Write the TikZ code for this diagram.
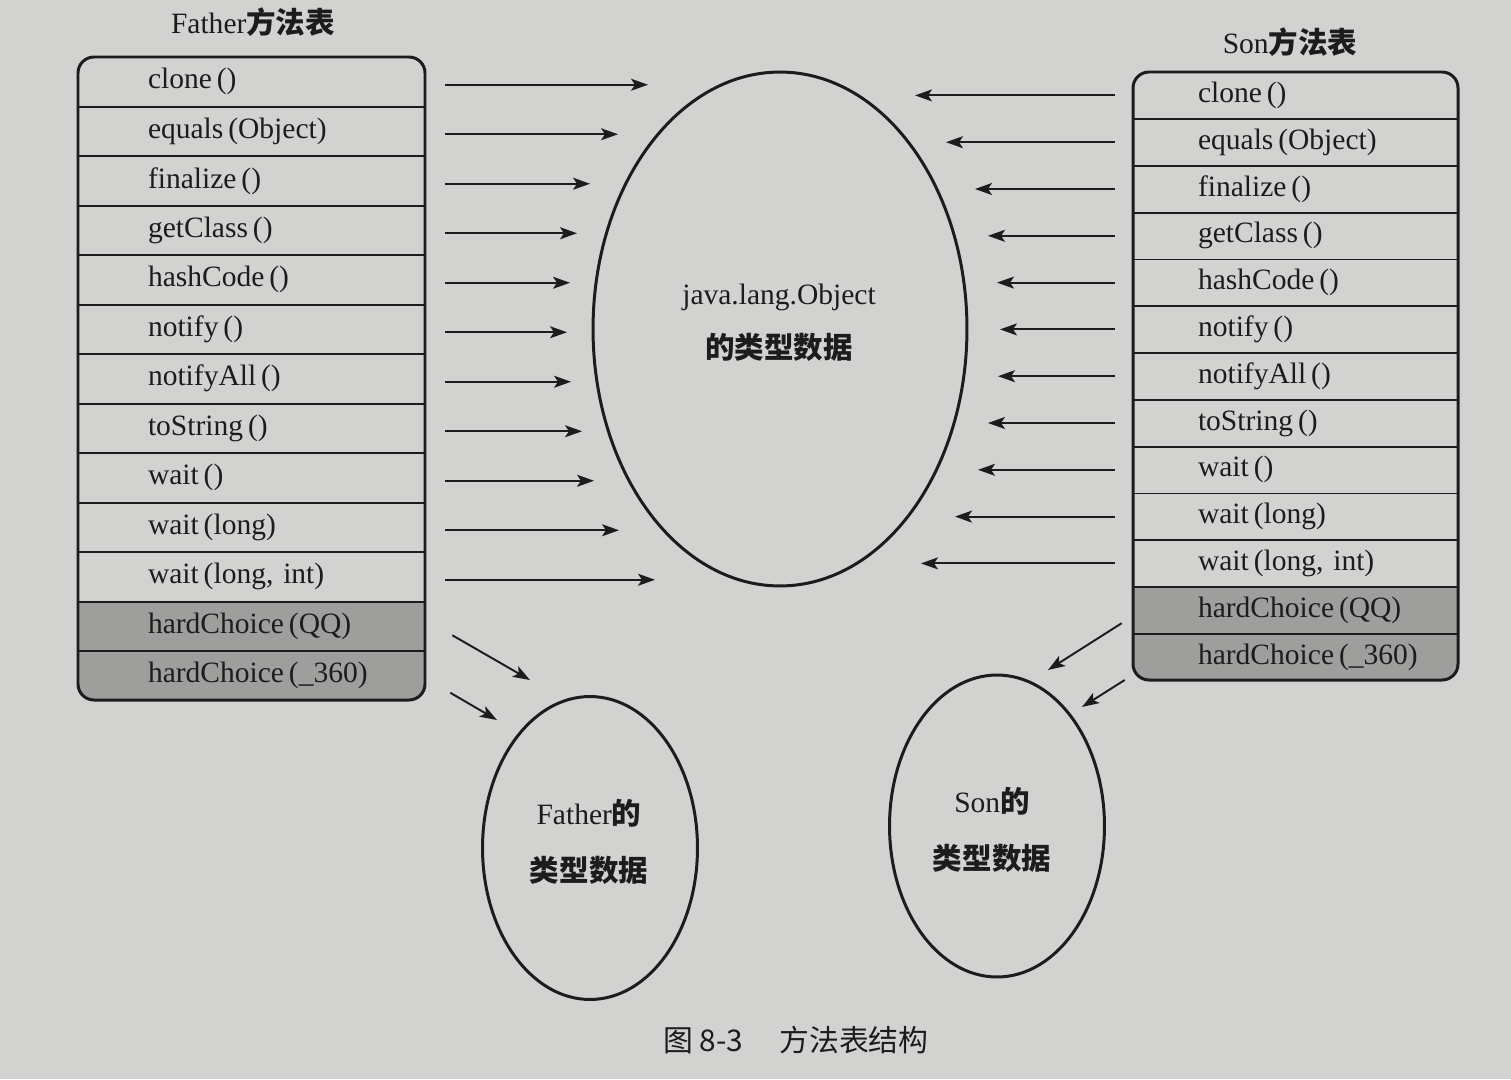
\documentclass[tikz,border=0pt]{standalone}
\usepackage{fontspec}
\setmainfont{Liberation Serif}
\newfontfamily\cjk{Noto Sans CJK SC}
\usetikzlibrary{arrows.meta,shapes.geometric}
\definecolor{paper}{RGB}{210,210,208}
\definecolor{greyrow}{RGB}{158,158,156}
\definecolor{ink}{RGB}{28,28,28}
\begin{document}
\begin{tikzpicture}[x=0.02cm,y=-0.02cm,
  txt/.style={font=\fontsize{16.8}{18}\selectfont, text=ink},
  frow/.style={txt, minimum height=0.99cm, text width=6.94cm, inner xsep=0pt, inner ysep=0pt, align=left, execute at begin node={\hspace*{1.4cm}}},
  srow/.style={txt, minimum height=0.936cm, text width=6.5cm, inner xsep=0pt, inner ysep=0pt, align=left, execute at begin node={\hspace*{1.3cm}}},
  sep/.style={draw=ink, line width=1pt},
  frame/.style={draw=ink, line width=1.7pt, rounded corners=0.32cm},
  ell/.style={ellipse, draw=ink, line width=1.7pt, inner sep=0pt, align=center, txt},
  arr/.style={draw=ink, line width=1.1pt, -{Stealth[length=0.34cm,width=0.24cm,inset=0.08cm]}},
  head/.style={txt}
]
\useasboundingbox (0,0) rectangle (1511,1079);
\fill[paper] (0,0) rectangle (1511,1079);

% ---------- Father table ----------
\begin{scope}
  \clip[rounded corners=0.32cm] (78,57) rectangle (425,700);
  \fill[greyrow] (78,{57+49.5*11}) rectangle (425,700);
\end{scope}
\foreach \t [count=\i] in {clone\,(), equals\,(Object), finalize\,(), getClass\,(), hashCode\,(), notify\,(), notifyAll\,(), toString\,(), wait\,(), wait\,(long), {wait\,(long, int)}, hardChoice\,(QQ), hardChoice\,(\_360)} {
  \node[frow] (f\i) at (251.5,{57+49.5*(\i-0.5)}) {\t};
}
\foreach \i in {1,...,12} { \draw[sep] (f\i.south west) -- (f\i.south east); }
\draw[frame] (78,57) rectangle (425,700);
\node[head] (ft) at (253,22) {Father{\cjk\bfseries 方法表}};

% ---------- Son table ----------
\begin{scope}
  \clip[rounded corners=0.32cm] (1133,72) rectangle (1458,680);
  \fill[greyrow] (1133,{72+46.8*11}) rectangle (1458,680);
\end{scope}
\foreach \t [count=\i] in {clone\,(), equals\,(Object), finalize\,(), getClass\,(), hashCode\,(), notify\,(), notifyAll\,(), toString\,(), wait\,(), wait\,(long), {wait\,(long, int)}, hardChoice\,(QQ), hardChoice\,(\_360)} {
  \node[srow] (s\i) at (1295.5,{72+46.8*(\i-0.5)}) {\t};
}
\foreach \i in {1,...,12} { \draw[sep] (s\i.south west) -- (s\i.south east); }
\draw[frame] (1133,72) rectangle (1458,680);
\node[head] (st) at (1290,42) {Son{\cjk\bfseries 方法表}};

% ---------- Ellipses ----------
\node[ell, minimum width=7.48cm, minimum height=10.28cm] (obj) at (780,329) {};
\node[txt, align=center] (objt) at (779,323) {java.lang.Object\\[0.42cm]{\cjk\bfseries 的类型数据}};
\node[ell, minimum width=4.3cm, minimum height=6.06cm] (fd) at (590,848) {};
\node[txt, align=center] (fdt) at (589,842) {Father{\cjk\bfseries 的}\\[0.5cm]{\cjk\bfseries 类型数据}};
\node[ell, minimum width=4.3cm, minimum height=6.04cm] (sd) at (997,826) {};
\node[txt, align=center] (sdt) at (992,830) {Son{\cjk\bfseries 的}\\[0.5cm]{\cjk\bfseries 类型数据}};

% ---------- Father arrows ----------
\foreach \e [count=\i] in {648,618,590,577,570,567,571,582,594,619,655} {
  \coordinate (fa\i) at (\e,{60+49.5*(\i-0.5)});
  \draw[arr, shorten <=0.4cm] (f\i.east |- fa\i) -- (fa\i);
}
\coordinate (fq) at (530,680);
\coordinate (fr) at (497,720);
\draw[arr] ([shift={(27,9)}]f12.east) -- (fq);
\draw[arr] ([shift={(25,17)}]f13.east) -- (fr);

% ---------- Son arrows ----------
\foreach \e [count=\i] in {915,946,975,988,997,1000,998,988,978,955,921} {
  \coordinate (sa\i) at (\e,{72+46.8*(\i-0.5)});
  \draw[arr, shorten <=0.36cm] (s\i.west) -- (sa\i);
}
\coordinate (sq) at (1048,670);
\coordinate (sr) at (1082,707);
\draw[arr] ([shift={(-11,13)}]s12.west) -- (sq);
\draw[arr] ([shift={(-8,23)}]s13.west) -- (sr);

% ---------- Caption ----------
\node[font=\cjk\fontsize{17}{20}\selectfont, text=ink] (cap) at (796,1040) {图 8-3\hspace{1.2em}方法表结构};
\end{tikzpicture}
\end{document}
